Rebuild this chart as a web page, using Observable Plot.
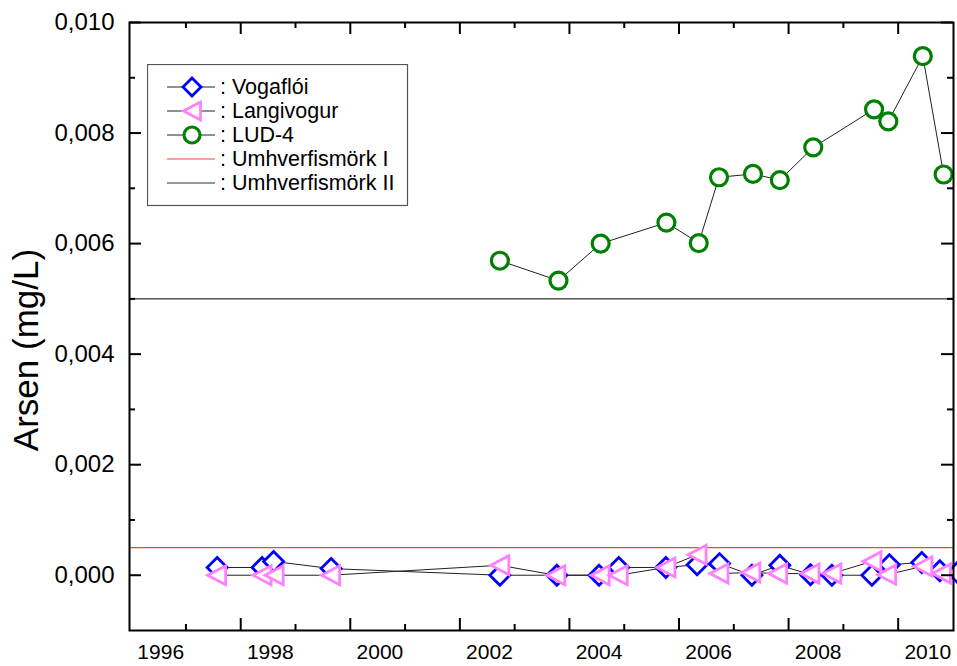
<!DOCTYPE html>
<html><head><meta charset="utf-8">
<script src="https://cdn.jsdelivr.net/npm/d3@7"></script>
<script src="https://cdn.jsdelivr.net/npm/@observablehq/plot@0.6"></script>
<style>
body{margin:0;background:#fff;}
#wrap{position:relative;width:957px;height:666px;font-family:"Liberation Sans",Arial,sans-serif;background:#fff;overflow:hidden;}
#ytitle{position:absolute;left:26px;top:350px;transform:translate(-50%,-50%) rotate(-90deg);font-size:35px;white-space:nowrap;color:#000;}
#legend{position:absolute;left:147px;top:64px;}
</style></head><body><div id="wrap"></div>
<script>
// Vogaflói (blue diamonds)
const vogYear = [1997.03,1997.85,1998.06,1999.11,2002.19,2003.23,2004.00,2004.36,2005.22,2005.79,2006.20,2006.79,2007.30,2007.86,2008.25,2008.98,2009.30,2009.89,2010.22,2010.54];
const vogVal  = [0.00014,0.00014,0.00025,0.00012,0.0,0.0,0.0,0.00014,0.00014,0.00019,0.00021,0.0,0.00018,0.00001,0.0,0.0,0.00019,0.00023,0.00008,0.00005];
// Langivogur (pink left triangles)
const langYear = [1997.02,1997.85,1998.07,1999.10,2002.19,2003.21,2004.02,2004.35,2005.22,2005.79,2006.19,2006.77,2007.26,2007.85,2008.25,2008.98,2009.25,2009.91,2010.25];
const langVal  = [0.0,0.0,0.0,0.0,0.00018,0.0,0.0,0.0,0.00014,0.00037,0.00003,0.00005,0.00003,0.00003,0.00003,0.00025,0.00001,0.00016,0.00003];
// LUD-4 (green circles)
const ludYear = [2002.19,2003.26,2004.03,2005.23,2005.82,2006.19,2006.81,2007.30,2007.91,2009.02,2009.28,2009.91,2010.29];
const ludVal  = [0.00569,0.00533,0.00600,0.00638,0.00601,0.00720,0.00726,0.00715,0.00774,0.00843,0.00821,0.00939,0.00725];
// Limits
const limitI = 0.0005;   // Umhverfismörk I
const limitII = 0.005;   // Umhverfismörk II
// Axis ticks / labels
const xLabels = [1996,1998,2000,2002,2004,2006,2008,2010];
const xMajorTicks = [1997.46,1999.46,2001.46,2003.46,2005.46,2007.46,2009.46];
const xMinorTicks = [1996.46,1998.46,2000.46,2002.46,2004.46,2006.46,2008.46];
const yLabels = [0,0.002,0.004,0.006,0.008,0.010];
const yMinorTicks = [0.001,0.003,0.005,0.007,0.009];
const seriesNames = ["Vogaflói","Langivogur","LUD-4","Umhverfismörk I","Umhverfismörk II"];

const vog = vogYear.map((x,i)=>({x, y: vogVal[i]}));
const lang = langYear.map((x,i)=>({x, y: langVal[i]}));
const lud = ludYear.map((x,i)=>({x, y: ludVal[i]}));

const diamondSym = {draw(ctx, size){const r=Math.sqrt(size/Math.PI);ctx.moveTo(0,-r);ctx.lineTo(r,0);ctx.lineTo(0,r);ctx.lineTo(-r,0);ctx.closePath();}};
const triLeftSym = {draw(ctx, size){const r=Math.sqrt(size/Math.PI);ctx.moveTo(-0.95*r,0);ctx.lineTo(0.95*r,-r);ctx.lineTo(0.95*r,r);ctx.closePath();}};

const W=957,H=666,mL=129,mR=4,mT=22,mB=36;
const PH=H-mT-mB, PW=W-mL-mR;
const major=12, minor=6;
const font='"Liberation Sans",Arial,sans-serif';
const blue="#0000ff", pink="#ff80ff", green="#008000", red="#ff4040";
const fmtY = d => d.toFixed(3).replace(".", ",");

const chart = Plot.plot({
  width: W, height: H, marginLeft: mL, marginRight: mR, marginTop: mT, marginBottom: mB,
  x: {domain: [1995.43, 2010.47], axis: null},
  y: {domain: [-0.001, 0.010], axis: null},
  style: {fontFamily: font, fontSize: "21px", color: "black", background: "white", overflow: "visible"},
  marks: [
    Plot.ruleY([limitI], {stroke: red, strokeWidth: 1.2}),
    Plot.ruleY([limitII], {stroke: "black", strokeWidth: 1}),
    Plot.line(vog, {x: "x", y: "y", stroke: "#222", strokeWidth: 1}),
    Plot.line(lang, {x: "x", y: "y", stroke: "#222", strokeWidth: 1}),
    Plot.line(lud, {x: "x", y: "y", stroke: "#222", strokeWidth: 1}),
    Plot.dot(vog, {x: "x", y: "y", symbol: diamondSym, r: 10, stroke: blue, strokeWidth: 2.8, fill: "white"}),
    Plot.dot(lang, {x: "x", y: "y", symbol: triLeftSym, r: 9.5, stroke: pink, strokeWidth: 2.8, fill: "white"}),
    Plot.dot(lud, {x: "x", y: "y", symbol: "circle", r: 8.5, stroke: green, strokeWidth: 3.2, fill: "white"}),
    // tick labels
    Plot.text(xLabels, {x: d => d, text: d => String(d), frameAnchor: "bottom", lineAnchor: "top", dy: 14, fontSize: 21, fill: "black"}),
    Plot.text(yLabels, {y: d => d, text: fmtY, frameAnchor: "left", textAnchor: "end", dx: -15, fontSize: 24, fill: "black"}),
    // inward ticks on all four sides
    Plot.tickX(xMajorTicks, {x: d => d, insetTop: PH - major, stroke: "black", strokeWidth: 2}),
    Plot.tickX(xMinorTicks, {x: d => d, insetTop: PH - minor, stroke: "black", strokeWidth: 2}),
    Plot.tickX(xMajorTicks, {x: d => d, insetBottom: PH - major, stroke: "black", strokeWidth: 2}),
    Plot.tickX(xMinorTicks, {x: d => d, insetBottom: PH - minor, stroke: "black", strokeWidth: 2}),
    Plot.tickY(yLabels, {y: d => d, insetRight: PW - major, stroke: "black", strokeWidth: 2}),
    Plot.tickY(yMinorTicks, {y: d => d, insetRight: PW - minor, stroke: "black", strokeWidth: 2}),
    Plot.tickY(yLabels, {y: d => d, insetLeft: PW - major, stroke: "black", strokeWidth: 2}),
    Plot.tickY(yMinorTicks, {y: d => d, insetLeft: PW - minor, stroke: "black", strokeWidth: 2}),
    Plot.frame({stroke: "black", strokeWidth: 2})
  ]
});

const wrap = document.getElementById("wrap");
wrap.appendChild(chart);

const yt = document.createElement("div");
yt.id = "ytitle"; yt.textContent = "Arsen (mg/L)";
wrap.appendChild(yt);

// Legend
const ns = "http://www.w3.org/2000/svg";
const lg = document.createElementNS(ns, "svg");
lg.setAttribute("id","legend"); lg.setAttribute("width", 262); lg.setAttribute("height", 143);
const lw = 260, lh = 141;
function el(tag, attrs, parent){const e=document.createElementNS(ns,tag);for(const k in attrs)e.setAttribute(k,attrs[k]);(parent||lg).appendChild(e);return e;}
el("rect",{x:0.5,y:0.5,width:lw,height:lh,fill:"white",stroke:"#555","stroke-width":1.2});
const rowY = [23,47,71,95,119];
const styles = [
  {line:"#222", sym:"diamond", color:blue},
  {line:"#222", sym:"tri", color:pink},
  {line:"#222", sym:"circle", color:green},
  {line:red, sym:null},
  {line:"#333", sym:null}
];
seriesNames.forEach((name,i)=>{
  const y = rowY[i], s = styles[i], cx = 45;
  el("line",{x1:20,x2:68,y1:y,y2:y,stroke:s.line,"stroke-width":1.2});
  if(s.sym==="diamond") el("path",{d:`M${cx},${y-9}L${cx+9},${y}L${cx},${y+9}L${cx-9},${y}Z`,fill:"white",stroke:s.color,"stroke-width":2.8});
  if(s.sym==="tri") el("path",{d:`M${cx-8.5},${y}L${cx+8.5},${y-9}L${cx+8.5},${y+9}Z`,fill:"white",stroke:s.color,"stroke-width":2.8});
  if(s.sym==="circle") el("circle",{cx:cx,cy:y,r:8,fill:"white",stroke:s.color,"stroke-width":3.2});
  const t = el("text",{x:73,y:y,"dominant-baseline":"central","font-size":21.5,"font-family":font,fill:"black"});
  t.textContent = ": " + name;
});
wrap.appendChild(lg);
</script>
</body></html>
